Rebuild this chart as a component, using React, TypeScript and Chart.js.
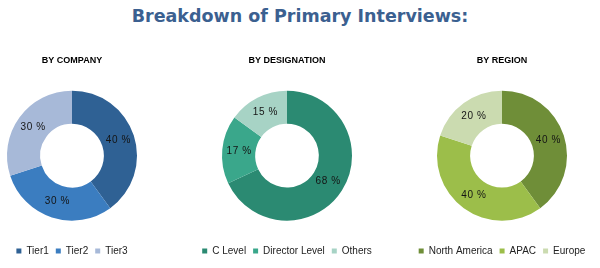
import React, { useEffect, useRef } from 'react';
import { Chart, registerables } from 'chart.js';

Chart.register(...registerables);

const mainTitle = 'Breakdown of Primary Interviews:';

const companyTitle = 'BY COMPANY';
const companyLabels = ['Tier1', 'Tier2', 'Tier3'];
const companyValues = [40, 30, 30];
const companyColors = ['#2F6194', '#3B7DC0', '#A7B9D8'];

const designationTitle = 'BY DESIGNATION';
const designationLabels = ['C Level', 'Director Level', 'Others'];
const designationValues = [68, 17, 15];
const designationColors = ['#2B8A72', '#3AA78B', '#A7D3C5'];

const regionTitle = 'BY REGION';
const regionLabels = ['North America', 'APAC', 'Europe'];
const regionValues = [40, 40, 20];
const regionColors = ['#6F8E38', '#9CBE4A', '#CBDBB0'];

const FONT = '"Liberation Sans", Arial, sans-serif';

const sliceLabelPlugin = {
  id: 'sliceLabels',
  afterDatasetsDraw(chart: any) {
    const ctx = chart.ctx as CanvasRenderingContext2D;
    const meta = chart.getDatasetMeta(0);
    const data = chart.data.datasets[0].data as number[];
    ctx.save();
    ctx.font = `10px ${FONT}`;
    ctx.fillStyle = '#141414';
    ctx.textAlign = 'center';
    ctx.textBaseline = 'middle';
    (ctx as any).letterSpacing = '0.6px';
    meta.data.forEach((arc: any, i: number) => {
      const p = arc.getCenterPoint();
      ctx.fillText(`${data[i]} %`, p.x + 0.3, p.y);
    });
    ctx.restore();
  },
};

type DonutProps = {
  title: string;
  labels: string[];
  values: number[];
  colors: string[];
  cx: number;
};

function Donut({ title, labels, values, colors, cx }: DonutProps) {
  const ref = useRef<HTMLCanvasElement>(null);
  useEffect(() => {
    const chart = new Chart(ref.current as HTMLCanvasElement, {
      type: 'doughnut',
      data: {
        labels,
        datasets: [
          {
            data: values,
            backgroundColor: colors,
            borderWidth: 0,
            clip: false as any,
          },
        ],
      },
      options: {
        responsive: false,
        animation: false,
        radius: 65,
        cutout: '49%',
        layout: { padding: 0 },
        plugins: {
          title: {
            display: true,
            text: title,
            color: '#000',
            font: { family: FONT, size: 9, weight: 'bold', lineHeight: 1.2 },
            padding: { top: 15.6, bottom: 5.9 },
          },
          legend: {
            position: 'bottom',
            labels: {
              boxWidth: 5,
              boxHeight: 5,
              padding: 7,
              color: '#222',
              font: { family: FONT, size: 10 },
            },
          },
          tooltip: { enabled: false },
        },
      } as any,
      plugins: [sliceLabelPlugin],
    });
    return () => chart.destroy();
  }, []);
  return (
    <canvas
      ref={ref}
      width={200}
      height={226}
      style={{ position: 'absolute', left: cx - 100, top: 40, width: 200, height: 226 }}
    />
  );
}

export default function App() {
  return (
    <div
      style={{
        position: 'absolute',
        left: 0,
        top: 0,
        width: 600,
        height: 268,
        overflow: 'hidden',
        background: '#fff',
      }}
    >
      <div
        style={{
          position: 'absolute',
          left: 0,
          top: 4,
          width: 600,
          textAlign: 'center',
          fontFamily: '"DejaVu Sans", Verdana, sans-serif',
          fontWeight: 'bold',
          fontSize: 17.5,
          lineHeight: '24px',
          color: '#3B6090',
        }}
      >
        {mainTitle}
      </div>
      <Donut title={companyTitle} labels={companyLabels} values={companyValues} colors={companyColors} cx={72} />
      <Donut
        title={designationTitle}
        labels={designationLabels}
        values={designationValues}
        colors={designationColors}
        cx={287}
      />
      <Donut title={regionTitle} labels={regionLabels} values={regionValues} colors={regionColors} cx={501.5} />
    </div>
  );
}
